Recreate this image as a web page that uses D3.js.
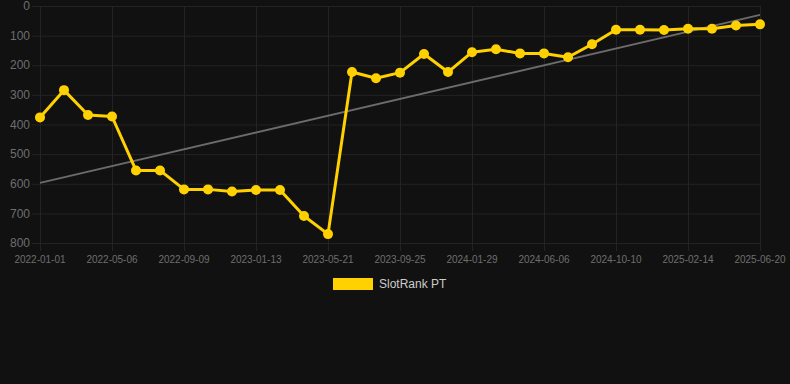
<!DOCTYPE html>
<html>
<head>
<meta charset="utf-8">
<script src="https://cdn.jsdelivr.net/npm/d3@7"></script>
<style>
  html, body { margin: 0; padding: 0; background: #111111; }
  svg { display: block; font-family: "Liberation Sans", Arial, sans-serif; }
</style>
</head>
<body>
<div id="chart"></div>
<script>
// dates of each rank snapshot (category axis, every third one labelled)
const dates = [
  "2022-01-01", "2022-02-12", "2022-03-26", "2022-05-06", "2022-06-17", "2022-07-29",
  "2022-09-09", "2022-10-21", "2022-12-02", "2023-01-13", "2023-02-24", "2023-04-08",
  "2023-05-21", "2023-07-02", "2023-08-13", "2023-09-25", "2023-11-06", "2023-12-18",
  "2024-01-29", "2024-03-11", "2024-04-24", "2024-06-06", "2024-07-18", "2024-08-29",
  "2024-10-10", "2024-11-21", "2025-01-03", "2025-02-14", "2025-03-28", "2025-05-09",
  "2025-06-20"
];
const ranks = [
  376, 284, 368, 373, 555, 555, 619, 619, 626, 621, 621, 709, 770,
  223, 244, 225, 162, 223, 156, 146, 160, 160, 173, 129,
  80, 80, 81, 77, 77, 66, 62
];
const tickLabels = [
  "2022-01-01", "2022-05-06", "2022-09-09", "2023-01-13", "2023-05-21", "2023-09-25",
  "2024-01-29", "2024-06-06", "2024-10-10", "2025-02-14", "2025-06-20"
];
const yTicks = [0, 100, 200, 300, 400, 500, 600, 700, 800];
// trend line end values
const trendValues = [597, 30];
const seriesName = "SlotRank PT";

const W = 790, H = 384;
const margin = {top: 6, right: 30, bottom: 141, left: 40},
    width = W - margin.left - margin.right,
    height = H - margin.top - margin.bottom;

const svg = d3.select("#chart")
  .append("svg")
    .attr("width", W)
    .attr("height", H)
    .style("background", "#111111");

const g = svg.append("g")
    .attr("transform", "translate(" + margin.left + "," + margin.top + ")");

const x = d3.scalePoint()
    .domain(dates)
    .range([0, width]);

const y = d3.scaleLinear()
    .domain([0, 800])
    .range([0, height]);

// horizontal grid + y labels
g.append("g")
  .selectAll("line")
  .data(yTicks)
  .join("line")
    .attr("x1", -8)
    .attr("x2", width)
    .attr("y1", d => y(d) + 0.5)
    .attr("y2", d => y(d) + 0.5)
    .attr("stroke", "#232323")
    .attr("stroke-width", 1);

g.append("g")
  .selectAll("text")
  .data(yTicks)
  .join("text")
    .attr("x", -10)
    .attr("y", d => y(d))
    .attr("dy", "0.35em")
    .attr("text-anchor", "end")
    .attr("fill", "#6e6e6e")
    .style("font-size", "12px")
    .text(d => d);

// vertical grid + x labels
g.append("g")
  .selectAll("line")
  .data(tickLabels)
  .join("line")
    .attr("x1", d => Math.round(x(d)) + 0.5)
    .attr("x2", d => Math.round(x(d)) + 0.5)
    .attr("y1", 0)
    .attr("y2", height + 8)
    .attr("stroke", "#232323")
    .attr("stroke-width", 1);

g.append("g")
  .selectAll("text")
  .data(tickLabels)
  .join("text")
    .attr("x", d => x(d))
    .attr("y", height + 16)
    .attr("dy", "0.35em")
    .attr("text-anchor", "middle")
    .attr("fill", "#6e6e6e")
    .style("font-size", "10px")
    .text(d => d);

// trend line
g.append("line")
    .attr("x1", x(dates[0]))
    .attr("x2", x(dates[dates.length - 1]))
    .attr("y1", y(trendValues[0]))
    .attr("y2", y(trendValues[1]))
    .attr("stroke", "#6b6b6b")
    .attr("stroke-width", 2);

// rank line
const data = dates.map((d, i) => ({date: d, rank: ranks[i]}));

g.append("path")
    .datum(data)
    .attr("fill", "none")
    .attr("stroke", "#FFD100")
    .attr("stroke-width", 3)
    .attr("stroke-linejoin", "round")
    .attr("d", d3.line()
        .x(d => x(d.date))
        .y(d => y(d.rank)));

g.append("g")
  .selectAll("circle")
  .data(data)
  .join("circle")
    .attr("cx", d => x(d.date))
    .attr("cy", d => y(d.rank))
    .attr("r", 5)
    .attr("fill", "#FFD100");

// legend
const legend = svg.append("g")
    .attr("transform", "translate(333,278)");
legend.append("rect")
    .attr("width", 40)
    .attr("height", 12)
    .attr("fill", "#FFD100");
legend.append("text")
    .attr("x", 46)
    .attr("y", 6)
    .attr("dy", "0.35em")
    .attr("fill", "#cccccc")
    .style("font-size", "12px")
    .text(seriesName);
</script>
</body>
</html>
